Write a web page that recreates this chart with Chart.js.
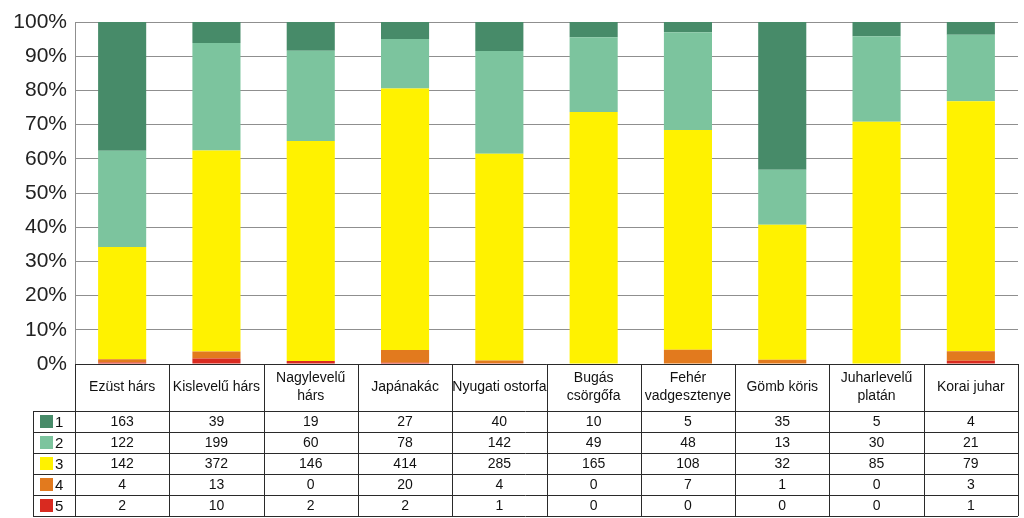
<!DOCTYPE html>
<html>
<head>
<meta charset="utf-8">
<script src="https://cdn.jsdelivr.net/npm/chart.js@4"></script>
<style>
  html, body { margin: 0; padding: 0; background: #fff; }
  #wrap { width: 1024px; height: 518px; }
</style>
</head>
<body>
<div id="wrap"><canvas id="myChart" width="1024" height="518"></canvas></div>
<script>
'use strict';
// categories (tree species), header lines as shown in the table
const categories = [
  ['Ezüst hárs'], ['Kislevelű hárs'], ['Nagylevelű', 'hárs'], ['Japánakác'], ['Nyugati ostorfa'],
  ['Bugás', 'csörgőfa'], ['Fehér', 'vadgesztenye'], ['Gömb köris'], ['Juharlevelű', 'platán'], ['Korai juhar']
];
const seriesNames = ['1', '2', '3', '4', '5'];
const s1 = [163, 39, 19, 27, 40, 10, 5, 35, 5, 4];
const s2 = [122, 199, 60, 78, 142, 49, 48, 13, 30, 21];
const s3 = [142, 372, 146, 414, 285, 165, 108, 32, 85, 79];
const s4 = [4, 13, 0, 20, 4, 0, 7, 1, 0, 3];
const s5 = [2, 10, 2, 2, 1, 0, 0, 0, 0, 1];
const colors = ['#478b69', '#7cc49e', '#fff200', '#e27a1e', '#d92a20'];
const yTicks = [0, 10, 20, 30, 40, 50, 60, 70, 80, 90, 100];

const allSeries = [s1, s2, s3, s4, s5];
const totals = categories.map((c, i) => allSeries.reduce((a, s) => a + s[i], 0));

// bottom of stack is series 5, top is series 1
const datasets = [];
for (let k = allSeries.length - 1; k >= 0; k--) {
  datasets.push({
    label: seriesNames[k],
    data: allSeries[k].map((v, i) => v / totals[i] * 100),
    backgroundColor: colors[k],
    borderWidth: 0,
    barPercentage: 0.51,
    categoryPercentage: 1
  });
}

const tableTop = 364;
const headerH = 47;
const rowH = 21;
const legendLeft = 33;

const tablePlugin = {
  id: 'dataTable',
  afterDraw(chart) {
    const ctx = chart.ctx;
    const x = chart.scales.x;
    const area = chart.chartArea;
    const n = categories.length;
    const cw = (area.right - area.left) / n;
    const top = area.bottom;
    const rowsTop = top + headerH;
    const bottom = rowsTop + rowH * allSeries.length;
    ctx.save();
    ctx.strokeStyle = '#2a2a2a';
    ctx.lineWidth = 1;
    ctx.beginPath();
    // header box
    ctx.moveTo(area.left, top + 0.5); ctx.lineTo(area.right, top + 0.5);
    for (let i = 0; i <= n; i++) {
      const px = Math.round(area.left + i * cw) + 0.5;
      ctx.moveTo(px, top); ctx.lineTo(px, bottom);
    }
    // data rows
    for (let r = 0; r <= allSeries.length; r++) {
      const py = Math.round(rowsTop + r * rowH) + 0.5;
      ctx.moveTo(legendLeft, py); ctx.lineTo(area.right, py);
    }
    ctx.moveTo(legendLeft + 0.5, rowsTop); ctx.lineTo(legendLeft + 0.5, bottom);
    ctx.stroke();

    ctx.fillStyle = '#111';
    ctx.font = '14px "Liberation Sans", Arial, sans-serif';
    ctx.textAlign = 'center';
    ctx.textBaseline = 'middle';
    categories.forEach((lines, i) => {
      const cx = x.getPixelForValue(i);
      const mid = top + headerH / 2;
      lines.forEach((t, j) => {
        ctx.fillText(t, cx, mid + (j - (lines.length - 1) / 2) * 18);
      });
      allSeries.forEach((s, r) => {
        ctx.fillText(String(s[i]), cx, rowsTop + r * rowH + rowH / 2 + 1);
      });
    });
    // legend column
    ctx.textAlign = 'left';
    ctx.font = '15px "Liberation Sans", Arial, sans-serif';
    seriesNames.forEach((name, r) => {
      const ry = rowsTop + r * rowH;
      ctx.fillStyle = colors[r];
      ctx.fillRect(legendLeft + 7, ry + 4, 13, 13);
      ctx.fillStyle = '#111';
      ctx.fillText(name, legendLeft + 22, ry + rowH / 2 + 1);
    });
    ctx.restore();
  }
};

const ctx = document.getElementById('myChart').getContext('2d');
const chart = new Chart(ctx, {
  type: 'bar',
  data: {
    labels: categories.map(c => c.join(' ')),
    datasets: datasets
  },
  options: {
    responsive: false,
    animation: false,
    layout: { padding: { top: 22, bottom: 518 - tableTop, left: 13, right: 6 } },
    plugins: {
      legend: { display: false },
      tooltip: { enabled: false }
    },
    scales: {
      x: {
        stacked: true,
        display: false
      },
      y: {
        stacked: true,
        min: 0,
        max: 100,
        afterBuildTicks: s => { s.ticks = yTicks.map(v => ({ value: v })); },
        afterFit: s => { s.width = 62; },
        ticks: {
          callback: v => v + '%',
          color: '#222',
          padding: 8,
          font: { family: '"Liberation Sans", Arial, sans-serif', size: 21 }
        },
        grid: { color: '#8f8f8f', drawTicks: false },
        border: { display: true, color: '#8f8f8f' }
      }
    }
  },
  plugins: [tablePlugin]
});
</script>
</body>
</html>
